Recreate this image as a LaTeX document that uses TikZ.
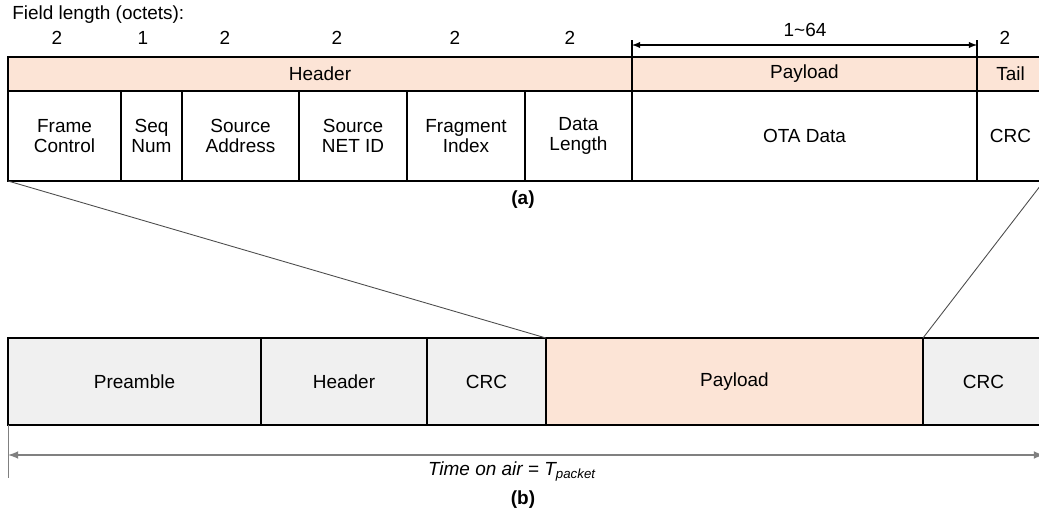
\documentclass[tikz,border=0pt]{standalone}
\usepackage{fontspec}
\setmainfont{Liberation Sans}
\usetikzlibrary{arrows}
\definecolor{salmon}{HTML}{FCE4D6}
\definecolor{lgray}{HTML}{F0F0F0}
\tikzset{
  cell/.style={draw,line width=0.8pt,inner sep=0pt,outer sep=0pt,align=center,font=\fontsize{10.8}{11.6}\selectfont},
  lbl/.style={inner sep=0pt,font=\fontsize{10.8}{11.6}\selectfont},
  zoomline/.style={draw=black!70,line width=0.5pt}
}
\begin{document}
\begin{tikzpicture}[x=0.02cm,y=-0.02cm]
  \clip (0,0) rectangle (1039,518);
  % (a) frame
  \node[lbl,anchor=west] (fl) at (12,15) {Field length (octets):};
  \foreach \x/\v in {57/2,143/1,225/2,337/2,455/2,570/2,1005/2}
    \node[lbl] (len\x) at (\x,38) {\v};
  \foreach \l/\r/\n/\t in {8/632/hdr/Header,632/977/pld/Payload,977/1044/tail/Tail}
    \node[cell,fill=salmon,minimum width={(\r-\l)*0.02cm},minimum height=0.68cm] (\n) at ({(\l+\r)/2},74) {\t};
  \foreach \l/\r/\n/\t in {8/121/fc/{Frame\\Control},121/182/sn/{Seq\\Num},182/299/sa/{Source\\Address},
      299/407/sid/{Source\\NET ID},407/525/fi/{Fragment\\Index},525/632/dl/{Data\\Length},
      632/977/ota/{OTA Data},977/1044/crc/CRC}
    \node[cell,fill=white,minimum width={(\r-\l)*0.02cm},minimum height=1.8cm] (\n) at ({(\l+\r)/2},136) {\t};
  \draw[line width=0.6pt] (pld.north west) -- ++(0,-17);
  \draw[line width=0.6pt] (pld.north east) -- ++(0,-17);
  \coordinate (dimL) at (632,45);
  \coordinate (dimR) at (977,45);
  \draw[latex-latex,line width=0.6pt] (dimL) -- (dimR);
  \node[lbl] (dimtxt) at (805,30) {1\textasciitilde 64};
  \node[lbl,font=\fontsize{10.8}{11.6}\selectfont\bfseries] (capa) at (523,200) {(a)};
  % (b) packet on air
  \foreach \l/\r/\n/\t/\c in {8/261/pre/Preamble/lgray,261/427/bhdr/Header/lgray,427/546/bcrc/CRC/lgray,
      546/923/bpld/Payload/salmon,923/1044/bend/CRC/lgray}
    \node[cell,fill=\c,minimum width={(\r-\l)*0.02cm},minimum height=1.74cm] (\n) at ({(\l+\r)/2},381.5) {\t};
  \draw[zoomline] (fc.south west) -- (bpld.north west);
  \draw[zoomline] (crc.south east) -- (bpld.north east);
  \coordinate (toaL) at (8,455);
  \coordinate (toaR) at (1044,455);
  \draw[gray,line width=0.5pt] (pre.south west) -- ++(0,53);
  \draw[latex-latex,gray,line width=1pt] (toaL) -- (toaR);
  \node[lbl,font=\fontsize{10.8}{11.6}\selectfont\itshape] (toa) at (512,471) {Time on air = T\textsubscript{packet}};
  \node[lbl,font=\fontsize{10.8}{11.6}\selectfont\bfseries] (capb) at (523,500) {(b)};
\end{tikzpicture}
\end{document}
